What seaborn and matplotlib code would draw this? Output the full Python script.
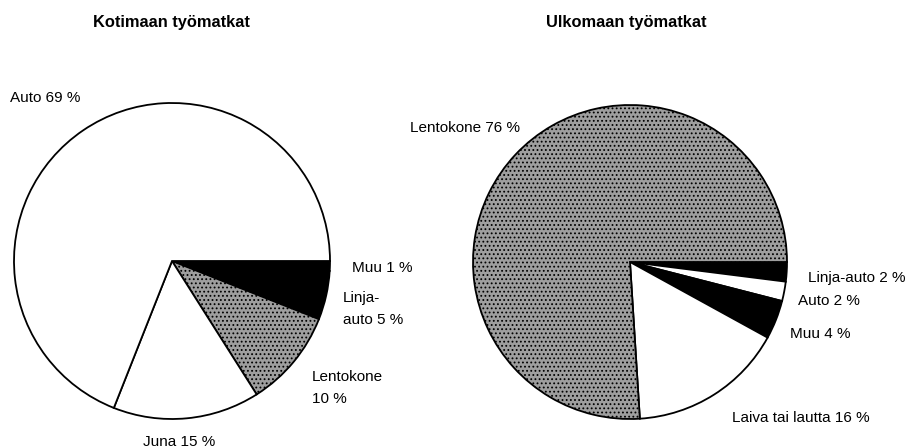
import matplotlib
matplotlib.use("Agg")
import matplotlib.pyplot as plt
import seaborn as sns

# data
koti_labels = ["Muu 1 %", "Linja-\nauto 5 %", "Lentokone\n10 %", "Juna 15 %", "Auto 69 %"]
koti_values = [1, 5, 10, 15, 69]
ulko_labels = ["Linja-auto 2 %", "Auto 2 %", "Muu 4 %", "Laiva tai lautta 16 %", "Lentokone 76 %"]
ulko_values = [2, 2, 4, 16, 76]

BLACK = "#000000"
WHITE = "#ffffff"
GRAY = "#9e9e9e"
koti_colors = [BLACK, BLACK, GRAY, WHITE, WHITE]
ulko_colors = [BLACK, WHITE, BLACK, WHITE, GRAY]

sns.set_theme(style="white")
plt.rcParams["font.family"] = ["Liberation Sans", "DejaVu Sans"]
plt.rcParams["text.color"] = "black"
plt.rcParams["hatch.linewidth"] = 0.8

W, H = 910, 448
fig = plt.figure(figsize=(W / 100, H / 100), dpi=100)
ax = fig.add_axes([0, 0, 1, 1])

def py(y):
    # pixel row -> axis y
    return H - y

wp = dict(edgecolor="black", linewidth=1.3)
w1, _ = ax.pie(koti_values, colors=koti_colors, startangle=0, counterclock=False,
               center=(172, py(261)), radius=158, wedgeprops=wp, frame=True)
w2, _ = ax.pie(ulko_values, colors=ulko_colors, startangle=0, counterclock=False,
               center=(630, py(262)), radius=157, wedgeprops=wp, frame=True)
# speckled grey fill of the scanned original
for w in [w1[2], w2[4]]:
    w.set_hatch("....")

ax.set_xlim(0, W)
ax.set_ylim(0, H)
ax.set_aspect("equal")
ax.axis("off")

fs = 11
tfs = 11.8
ax.text(171, py(27), "Kotimaan työmatkat", ha="center", va="baseline", fontsize=tfs, fontweight="bold")
ax.text(626, py(27), "Ulkomaan työmatkat", ha="center", va="baseline", fontsize=tfs, fontweight="bold")

# labels for the left pie
ax.text(10, py(102), koti_labels[4], ha="left", va="baseline", fontsize=fs)
ax.text(352, py(272), koti_labels[0], ha="left", va="baseline", fontsize=fs)
ax.text(343, py(309), koti_labels[1], ha="left", va="center", fontsize=fs, linespacing=1.75)
ax.text(312, py(388), koti_labels[2], ha="left", va="center", fontsize=fs, linespacing=1.7)
ax.text(143, py(446), koti_labels[3], ha="left", va="baseline", fontsize=fs)

# labels for the right pie
ax.text(410, py(132), ulko_labels[4], ha="left", va="baseline", fontsize=fs)
ax.text(808, py(282), ulko_labels[0], ha="left", va="baseline", fontsize=fs)
ax.text(798, py(305), ulko_labels[1], ha="left", va="baseline", fontsize=fs)
ax.text(790, py(338), ulko_labels[2], ha="left", va="baseline", fontsize=fs)
ax.text(732, py(422), ulko_labels[3], ha="left", va="baseline", fontsize=fs)

fig.savefig("out.png", dpi=100)
